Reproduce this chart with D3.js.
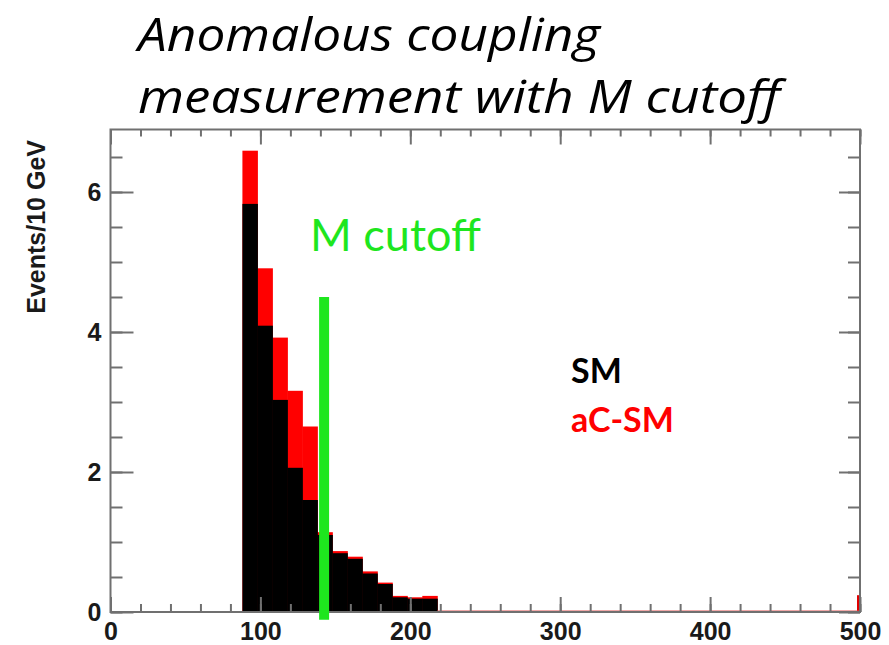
<!DOCTYPE html>
<html>
<head>
<meta charset="utf-8">
<script src="https://cdn.jsdelivr.net/npm/d3@7"></script>
<style>
  body { margin: 0; background: #fff; }
  svg { display: block; }
</style>
</head>
<body>
<svg id="chart" width="889" height="645"></svg>
<script>
// lower edges of the 10 GeV bins (GeV)
var binLow = [88, 98, 108, 118, 128, 138, 148, 158, 168, 178, 188, 198, 208];
var binWidth = 10;
// SM events per bin (black)
var smValues = [5.83, 4.09, 3.03, 2.06, 1.60, 1.10, 0.84, 0.76, 0.55, 0.40, 0.21, 0.19, 0.19];
// anomalous coupling + SM (red, drawn behind)
var acsmValues = [6.59, 4.91, 3.92, 3.16, 2.65, 1.14, 0.87, 0.79, 0.58, 0.42, 0.23, 0.21, 0.23];
// little red overflow spike at the end of the range
var overflowBin = [{x0: 498, x1: 500, v: 0.24}];
// M cutoff position and height of the marker
var cutoffMass = 142.5;
var cutoffTop = 4.5;

var xTicksMajor = [0, 100, 200, 300, 400, 500];
var xTicksMinor = d3.range(0, 501, 20);
var yTicksMajor = [0, 2, 4, 6];
var yTicksMinor = d3.range(0, 6.9, 0.5);

var titleLines = ["Anomalous coupling", "measurement with M cutoff"];

var svg = d3.select("#chart");

// plot box (careful: "top" is taken by window.top)
var plotL = 110.5, plotR = 860, plotT = 129.5, plotB = 612;

var x = d3.scaleLinear().domain([0, 500]).range([plotL, plotR]);
var y = d3.scaleLinear().domain([0, 6.9]).range([plotB, plotB - 6.9 * 70]);

var green = "#1ee61e";
var axisGrey = "#707070";

// histograms: red first, then black on top
var bins = binLow.map(function(b, i) {
    return {x0: b, x1: b + binWidth, sm: smValues[i], acsm: acsmValues[i]};
});

svg.append("g").selectAll("rect")
    .data(bins)
    .enter().append("rect")
    .attr("x", function(d) { return x(d.x0); })
    .attr("width", function(d) { return x(d.x1) - x(d.x0) + 0.5; })
    .attr("y", function(d) { return y(d.acsm); })
    .attr("height", function(d) { return y(0) - y(d.acsm); })
    .attr("fill", "#ff0000");

svg.append("g").selectAll("rect")
    .data(bins)
    .enter().append("rect")
    .attr("x", function(d) { return x(d.x0); })
    .attr("width", function(d) { return x(d.x1) - x(d.x0) + 0.5; })
    .attr("y", function(d) { return y(d.sm); })
    .attr("height", function(d) { return y(0) - y(d.sm); })
    .attr("fill", "#000");

svg.append("g").selectAll("rect")
    .data(overflowBin)
    .enter().append("rect")
    .attr("x", function(d) { return x(d.x0); })
    .attr("width", function(d) { return x(d.x1) - x(d.x0); })
    .attr("y", function(d) { return y(d.v); })
    .attr("height", function(d) { return y(0) - y(d.v); })
    .attr("fill", "#e00000");

// red zero line of the empty bins
svg.append("line")
    .attr("x1", x(218)).attr("x2", x(500))
    .attr("y1", y(0) - 1).attr("y2", y(0) - 1)
    .attr("stroke", "#e05050")
    .attr("stroke-width", 1);

// axes, ticks pointing inwards (ROOT style)
function styleAxis(g) {
    g.select(".domain").remove();
    g.selectAll(".tick line").attr("stroke", axisGrey).attr("stroke-width", 2);
    g.selectAll(".tick text")
        .attr("fill", "#1a1a1a")
        .style("font-family", "'Liberation Sans', Arial, sans-serif")
        .style("font-weight", "bold")
        .style("font-size", "25px");
}

svg.append("g").attr("transform", "translate(0," + plotB + ")")
    .call(d3.axisBottom(x).tickValues(xTicksMinor).tickSize(-8).tickFormat(""))
    .call(styleAxis);
svg.append("g").attr("transform", "translate(0," + plotB + ")")
    .call(d3.axisBottom(x).tickValues(xTicksMajor).tickSize(-15).tickPadding(10).tickFormat(d3.format("d")))
    .call(styleAxis);
svg.append("g").attr("transform", "translate(0," + plotT + ")")
    .call(d3.axisTop(x).tickValues(xTicksMinor).tickSize(-7).tickFormat(""))
    .call(styleAxis);
svg.append("g").attr("transform", "translate(0," + plotT + ")")
    .call(d3.axisTop(x).tickValues(xTicksMajor).tickSize(-15).tickFormat(""))
    .call(styleAxis);

svg.append("g").attr("transform", "translate(" + plotL + ",0)")
    .call(d3.axisLeft(y).tickValues(yTicksMinor).tickSize(-12).tickFormat(""))
    .call(styleAxis);
svg.append("g").attr("transform", "translate(" + plotL + ",0)")
    .call(d3.axisLeft(y).tickValues(yTicksMajor).tickSize(-23).tickPadding(9).tickFormat(d3.format("d")))
    .call(styleAxis);
svg.append("g").attr("transform", "translate(" + plotR + ",0)")
    .call(d3.axisRight(y).tickValues(yTicksMinor).tickSize(-12).tickFormat(""))
    .call(styleAxis);
svg.append("g").attr("transform", "translate(" + plotR + ",0)")
    .call(d3.axisRight(y).tickValues(yTicksMajor).tickSize(-21).tickFormat(""))
    .call(styleAxis);

// frame
svg.append("rect")
    .attr("x", plotL).attr("y", plotT)
    .attr("width", plotR - plotL).attr("height", plotB - plotT)
    .attr("fill", "none")
    .attr("stroke", axisGrey)
    .attr("stroke-width", 2);

// y axis title
svg.append("text")
    .attr("transform", "translate(45,140) rotate(-90)")
    .attr("text-anchor", "end")
    .style("font-family", "'Liberation Sans', Arial, sans-serif")
    .style("font-weight", "bold")
    .style("font-size", "25px")
    .attr("fill", "#1a1a1a")
    .text("Events/10 GeV");

// M cutoff marker
svg.append("line")
    .attr("x1", x(cutoffMass)).attr("x2", x(cutoffMass))
    .attr("y1", y(cutoffTop)).attr("y2", y(-0.11))
    .attr("stroke", green)
    .attr("stroke-width", 10);

svg.append("text")
    .attr("x", 310).attr("y", 251)
    .style("font-family", "Lato, 'Open Sans', sans-serif")
    .style("font-size", "45px")
    .attr("fill", green)
    .text("M cutoff");

// legend text
svg.append("text")
    .attr("x", 571).attr("y", 383)
    .style("font-family", "Lato, 'Open Sans', sans-serif")
    .style("font-weight", "bold")
    .style("font-size", "34px")
    .attr("fill", "#000")
    .text("SM");
svg.append("text")
    .attr("x", 571).attr("y", 432)
    .style("font-family", "Lato, 'Open Sans', sans-serif")
    .style("font-weight", "bold")
    .style("font-size", "34px")
    .attr("fill", "#ff0000")
    .text("aC-SM");

// title, stretched to the width the slide font takes
var titleWidths = [462, 642];
svg.append("g").selectAll("text")
    .data(titleLines)
    .enter().append("text")
    .attr("x", 138)
    .attr("y", function(d, i) { return 51 + i * 62; })
    .attr("textLength", function(d, i) { return titleWidths[i]; })
    .attr("lengthAdjust", "spacingAndGlyphs")
    .style("font-family", "'Open Sans', Lato, sans-serif")
    .style("font-style", "italic")
    .style("font-size", "45px")
    .attr("fill", "#000")
    .text(function(d) { return d; });
</script>
</body>
</html>
